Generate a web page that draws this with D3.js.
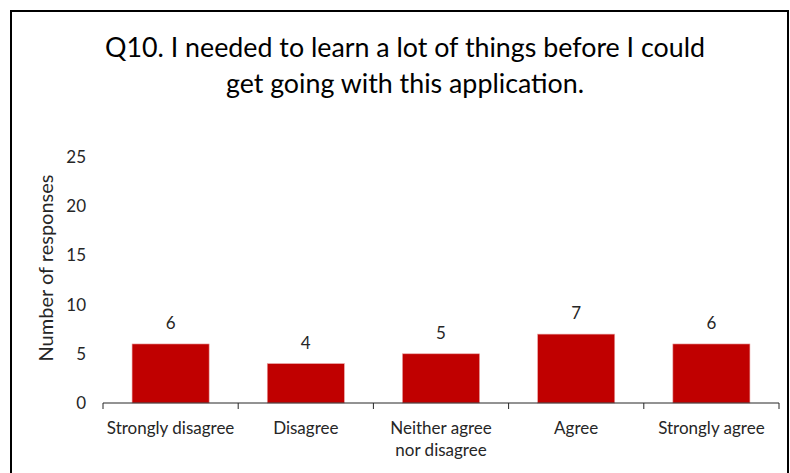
<!DOCTYPE html>
<html><head><meta charset="utf-8">
<script src="https://cdn.jsdelivr.net/npm/d3@7"></script>
<style>body{margin:0;background:#fff}svg{display:block}</style>
</head><body>
<script>
const titleLines = ["Q10. I needed to learn a lot of things before I could", "get going with this application."];
const categories = ["Strongly disagree", "Disagree", "Neither agree\nnor disagree", "Agree", "Strongly agree"];
const values = [6, 4, 5, 7, 6];
const yTicks = [0, 5, 10, 15, 20, 25];
const yLabel = "Number of responses";

const W = 790, H = 473;
const font = "Lato, 'Open Sans', sans-serif";
const svg = d3.select("body").append("svg").attr("width", W).attr("height", H);
svg.append("rect").attr("x", 0).attr("y", 0).attr("width", W).attr("height", H).attr("fill", "#fff");
svg.append("rect").attr("x", 11).attr("y", 11).attr("width", 777).attr("height", 480)
  .attr("fill", "none").attr("stroke", "#000").attr("stroke-width", 2);

const m = {l: 103, r: 779, t: 157, b: 403};
const x = d3.scaleBand().domain(categories).range([m.l, m.r]).paddingInner(0.43).paddingOuter(0.215);
const y = d3.scaleLinear().domain([0, 25]).range([m.b, m.t]);

svg.append("g").selectAll("text").data(titleLines).join("text")
  .attr("x", 405).attr("y", (d, i) => 57 + i * 36).attr("text-anchor", "middle")
  .attr("font-family", font).attr("font-size", 26.8).attr("fill", "#000").text(d => d);

svg.append("g").selectAll("rect").data(values).join("rect")
  .attr("x", (d, i) => x(categories[i])).attr("width", x.bandwidth())
  .attr("y", d => y(d)).attr("height", d => y(0) - y(d))
  .attr("fill", "#C00000").attr("stroke", "#e8a0a0").attr("stroke-width", 0.6);

svg.append("g").selectAll("text").data(values).join("text")
  .attr("x", (d, i) => x(categories[i]) + x.bandwidth() / 2).attr("y", d => y(d) - 15)
  .attr("text-anchor", "middle").attr("font-family", font).attr("font-size", 17).attr("fill", "#262626").text(d => d);

// y axis labels (no line)
const ya = svg.append("g").attr("transform", `translate(${m.l},0)`)
  .call(d3.axisLeft(y).tickValues(yTicks).tickSize(0).tickPadding(17));
ya.select(".domain").remove();
ya.selectAll("text").attr("font-family", font).attr("font-size", 17).attr("fill", "#262626");

// x axis
const xb = d3.scaleLinear().domain([0, categories.length]).range([m.l, m.r]);
const xg = svg.append("g");
xg.append("line").attr("x1", m.l).attr("x2", m.r).attr("y1", m.b).attr("y2", m.b).attr("stroke", "#262626").attr("stroke-width", 1);
xg.selectAll("line.tk").data(d3.range(categories.length + 1)).join("line").attr("class", "tk")
  .attr("x1", d => xb(d)).attr("x2", d => xb(d)).attr("y1", m.b).attr("y2", m.b + 6).attr("stroke", "#262626");
xg.selectAll("text").data(categories).join("text")
  .attr("x", d => x(d) + x.bandwidth() / 2).attr("y", 434)
  .attr("text-anchor", "middle").attr("font-family", font).attr("font-size", 17).attr("fill", "#262626")
  .each(function(d) {
    const lines = d.split("\n");
    d3.select(this).selectAll("tspan").data(lines).join("tspan")
      .attr("x", d3.select(this).attr("x")).attr("dy", (l, i) => i ? 22 : 0).text(l => l);
  });

svg.append("text").attr("transform", `translate(53,268) rotate(-90)`)
  .attr("text-anchor", "middle").attr("font-family", font).attr("font-size", 20).attr("fill", "#262626").text(yLabel);
</script>
</body></html>
